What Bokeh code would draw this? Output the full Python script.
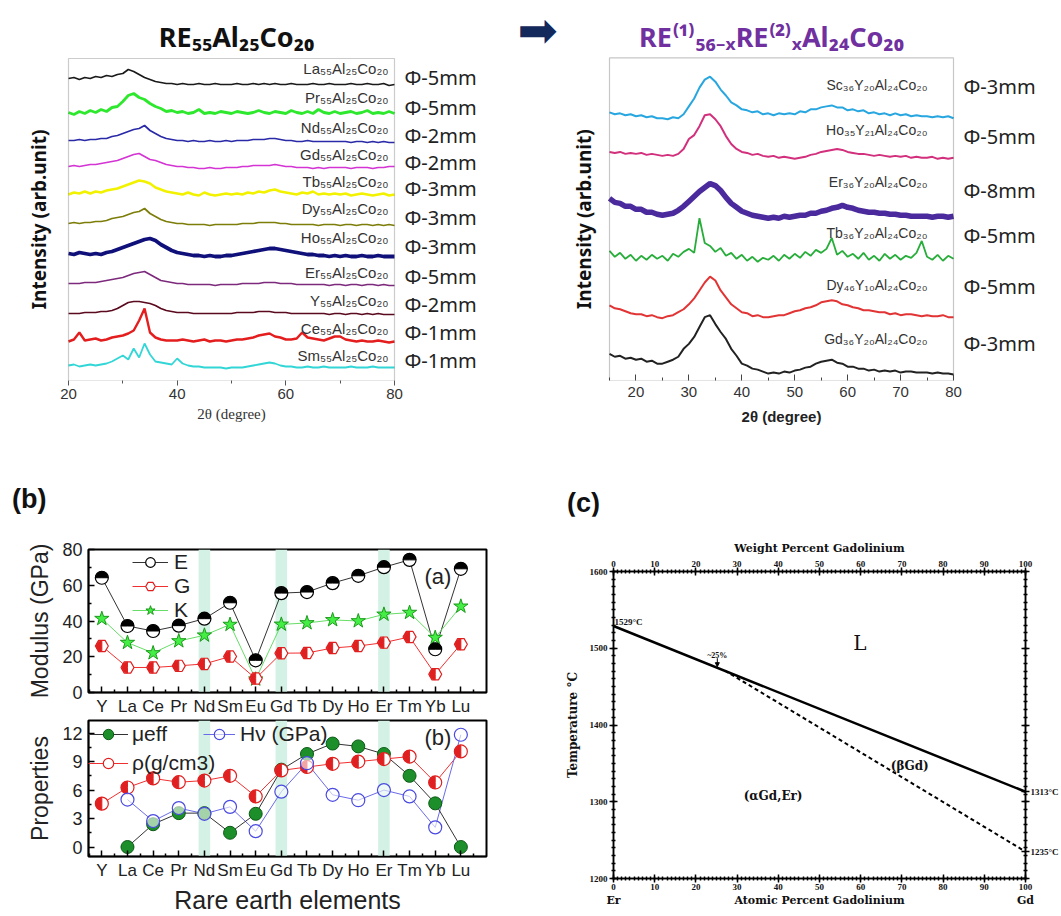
import math
from bokeh.plotting import figure
from bokeh.layouts import row, column
from bokeh.models import (Range1d, Label, LinearAxis, FixedTicker, Legend,
                          LegendItem, Arrow, NormalHead, BoxAnnotation, Div)
from bokeh.embed import file_html
from bokeh.resources import INLINE

nan = float("nan")

# ------------------------------------------------------------------ data
# Panel 1: RE55Al25Co20 XRD patterns (2theta 20..80, 1 degree steps)
theta_a = list(range(20, 81))
names_a = ["La₅₅Al₂₅Co₂₀", "Pr₅₅Al₂₅Co₂₀", "Nd₅₅Al₂₅Co₂₀", "Gd₅₅Al₂₅Co₂₀",
           "Tb₅₅Al₂₅Co₂₀", "Dy₅₅Al₂₅Co₂₀", "Ho₅₅Al₂₅Co₂₀", "Er₅₅Al₂₅Co₂₀",
           "Y₅₅Al₂₅Co₂₀", "Ce₅₅Al₂₅Co₂₀", "Sm₅₅Al₂₅Co₂₀"]
phi_a = ["Φ-5mm", "Φ-5mm", "Φ-2mm", "Φ-2mm", "Φ-3mm", "Φ-3mm", "Φ-3mm",
         "Φ-5mm", "Φ-2mm", "Φ-1mm", "Φ-1mm"]
offset_a = [295, 265, 238, 212, 183, 155, 123, 95, 66, 38, 12]
int_La = [7,8,6,8,7,9,8,10,9,11, 12,16,14,11,8,6,4,3,2,2, 1,2,1,1,2,1,1,2,1,1,
          1,2,1,1,2,1,2,1,2,1, 1,2,1,1,1,2,1,1,2,1, 1,1,2,1,1,2,1,1,2,0,1]
int_Pr = [3,1,4,2,5,3,6,4,8,9, 14,20,22,18,16,12,9,7,4,5, 3,4,2,3,6,2,3,2,4,3,
          2,4,3,2,3,5,3,2,4,3, 2,5,3,2,4,2,6,3,2,4, 2,3,4,2,3,5,2,3,2,4,2]
int_Nd = [2,2,3,2,3,3,4,4,6,7, 9,11,13,14,17,12,9,6,4,3, 2,2,1,2,1,1,2,1,1,2,
          1,2,2,2,3,3,3,4,4,3, 2,2,1,1,2,1,1,1,1,1, 1,1,0,1,1,0,1,0,1,0,0]
int_Gd = [2,3,2,3,4,4,5,6,7,8, 10,12,14,15,12,9,8,6,4,3, 2,2,1,1,0,0,1,0,0,1,
          1,1,2,2,3,3,3,3,4,3, 2,2,1,1,1,0,1,0,1,1, 1,1,0,1,1,1,0,1,1,2,2]
int_Tb = [3,5,4,6,4,6,5,7,8,9, 11,13,15,17,16,14,10,8,6,5, 4,3,5,3,2,5,3,2,3,4,
          3,4,3,5,4,6,5,7,8,6, 5,4,3,5,4,6,3,4,3,4, 3,4,2,3,4,3,2,3,4,2,3]
int_Dy = [2,3,2,3,3,4,4,5,7,8, 9,11,13,14,17,12,9,6,4,3, 2,2,1,1,1,1,0,1,1,1,
          1,1,2,2,2,3,3,3,3,2, 2,1,1,1,1,1,0,1,1,1, 0,1,1,0,1,1,0,1,0,1,0]
int_Ho = [4,3,5,4,3,4,3,5,6,8, 10,12,14,16,18,19,17,13,10,7, 5,4,3,2,2,1,2,1,1,2,
          2,3,4,5,6,7,8,9,9,8, 7,6,5,4,3,3,2,2,1,2, 1,2,1,1,2,1,1,2,1,1,1]
int_Er = [2,2,2,3,3,3,4,5,6,7, 8,10,12,13,14,11,8,5,4,3, 2,2,1,1,1,1,1,0,1,1,
          1,1,2,2,2,2,3,3,3,2, 2,2,1,1,1,1,1,1,0,1, 1,0,1,1,0,1,1,0,1,0,0]
int_Y = [1,1,1,2,2,2,3,3,4,6, 9,12,13,13,12,11,9,6,4,3, 2,2,2,1,1,1,1,1,1,1,
         1,2,2,2,2,3,3,3,2,2, 2,1,1,1,1,1,1,1,0,1, 1,0,1,1,0,1,0,1,0,0,0]
int_Ce = [1,3,10,2,3,4,2,3,5,6, 7,9,12,22,34,10,5,3,2,2, 2,3,2,1,2,3,1,2,2,1,
          2,3,3,4,5,7,8,9,6,5, 3,3,4,10,5,4,3,2,4,6, 6,3,2,1,2,1,1,2,1,0,1]
int_Sm = [3,4,2,3,4,3,4,5,7,10, 13,9,20,11,25,14,7,6,5,4, 10,5,3,2,2,1,1,1,1,0,
          1,1,1,2,3,4,5,6,5,3, 2,2,1,1,2,1,1,2,1,1, 1,1,2,1,1,1,2,1,1,1,1]
ints_a = [int_La, int_Pr, int_Nd, int_Gd, int_Tb, int_Dy, int_Ho, int_Er,
          int_Y, int_Ce, int_Sm]

# Panel 2: RE(1)56-xRE(2)xAl24Co20 XRD patterns (2theta 15..80)
theta_b = list(range(15, 81))
names_b = ["Sc₃₆Y₂₀Al₂₄Co₂₀", "Ho₃₅Y₂₁Al₂₄Co₂₀", "Er₃₆Y₂₀Al₂₄Co₂₀",
           "Tb₃₆Y₂₀Al₂₄Co₂₀", "Dy₄₆Y₁₀Al₂₄Co₂₀", "Gd₃₆Y₂₀Al₂₄Co₂₀"]
phi_b = ["Φ-3mm", "Φ-5mm", "Φ-8mm", "Φ-5mm", "Φ-5mm", "Φ-3mm"]
offset_b = [264, 224, 164, 121, 63, 6]
int_Sc36 = [7,5,6,4,5,3,4,2,3,1, 1,0,2,1,5,13,21,32,40,43, 38,30,24,17,14,10,9,7,8,5,
            6,4,6,5,6,5,8,7,10,10, 12,13,14,12,12,9,10,8,9,6, 7,5,6,4,6,4,5,3,4,3,
            3,2,3,2,3,1]
int_Ho35 = [7,6,7,5,6,5,6,4,5,4, 3,4,3,5,10,20,24,33,44,45, 40,33,23,15,10,7,6,4,5,3,
            2,3,1,2,1,0,1,2,4,5, 7,8,9,10,9,7,6,5,5,4, 3,4,3,2,3,2,3,1,2,1,
            1,2,0,1,0,1]
int_Er36 = [20,16,15,12,12,9,9,6,6,4, 3,4,5,8,12,17,22,27,31,35, 33,28,21,15,11,7,5,3,2,1,
            0,1,0,2,1,2,3,3,5,5, 7,8,10,11,13,11,10,8,7,6, 6,5,5,4,4,3,3,2,2,2,
            2,1,2,2,1,2]
int_Tb36 = [10,4,8,2,6,0,5,1,6,2, 5,0,7,4,9,12,8,43,18,15, 9,13,5,8,2,6,0,4,-1,3,
            1,5,0,6,2,7,3,9,5,11, 8,12,23,6,10,4,7,2,8,1, 5,0,7,2,6,1,5,3,8,20,
            4,1,6,0,5,2]
int_Dy46 = [13,10,9,7,5,4,4,2,3,1, 0,2,3,6,9,14,20,28,36,42, 38,28,21,14,10,6,5,2,3,1,
            1,2,3,3,5,7,8,10,11,13, 16,17,18,17,14,13,11,10,8,8, 7,6,6,4,5,3,4,4,3,2,
            3,2,2,3,1,1]
int_Gd36 = [21,18,19,16,17,15,16,13,14,11, 11,13,15,18,26,31,38,48,58,60, 51,43,36,26,19,11,9,6,5,3,
            1,2,1,3,2,4,5,7,8,11, 13,14,15,12,11,8,8,6,6,4, 5,3,4,3,4,2,3,3,2,2,
            2,1,2,1,1,0]
ints_b = [int_Sc36, int_Ho35, int_Er36, int_Tb36, int_Dy46, int_Gd36]

# Panel (b): properties of RE elements
elements = ["Y", "La", "Ce", "Pr", "Nd", "Sm", "Eu", "Gd", "Tb", "Dy", "Ho",
            "Er", "Tm", "Yb", "Lu"]
highlight = ["Nd", "Gd", "Er"]
mod_E = [64.2, 37.2, 34.4, 37.4, 41.3, 50.2, 18.0, 55.6, 56.2, 61.2, 65.3, 70.1, 74.2, 24.2, 69.2]
mod_G = [26.0, 14.0, 14.0, 14.9, 16.0, 20.1, 7.8, 22.0, 22.1, 24.9, 26.0, 27.9, 31.1, 10.2, 27.0]
mod_K = [41.3, 27.9, 22.1, 28.8, 32.0, 38.0, 7.4, 38.1, 38.9, 40.6, 40.0, 43.7, 44.7, 30.7, 48.2]
mu_eff = [nan, 0.0, 2.4, 3.57, 3.57, 1.5, 3.5, 8.15, 9.8, 10.9, 10.6, 9.8, 7.5, 4.6, 0.0]
rho = [4.57, 6.27, 7.23, 6.83, 7.0, 7.5, 5.33, 8.07, 8.43, 8.77, 9.0, 9.27, 9.53, 6.8, 10.07]
hv = [nan, 5.0, 2.73, 4.1, 3.5, 4.23, 1.67, 5.83, 8.83, 5.5, 4.93, 6.0, 5.33, 2.07, 11.83]

# Panel (c): Er-Gd phase diagram
at_pct_liq = [0, 100]
temp_liq = [1529, 1313]
at_pct_tr = [27, 100]
temp_tr = [1471, 1235]
end_temps = [1235, 1313]

for arr in ints_a:
    assert len(arr) == len(theta_a)
for arr in ints_b:
    assert len(arr) == len(theta_b)


# ------------------------------------------------------------------ helpers
def make_conv(box, xr, yr):
    l, t, r, b = box
    return (lambda X: xr[0] + (X - l) / (r - l) * (xr[1] - xr[0]),
            lambda Y: yr[1] - (Y - t) / (b - t) * (yr[1] - yr[0]))


def ext_ranges(box, xr, yr, frame):
    """Ranges for a frame larger than the visible axes box (same scale)."""
    l, t, r, b = box
    sx = (xr[1] - xr[0]) / (r - l)
    sy = (yr[1] - yr[0]) / (b - t)
    fl, ft, fr, fb = frame
    return ((xr[0] + (fl - l) * sx, xr[0] + (fr - l) * sx),
            (yr[0] - (fb - b) * sy, yr[0] + (b - ft) * sy))


def put(fig, conv, X, Y, text, size, font="Liberation Sans", color="#222222",
        style="normal", align="left", baseline="middle", angle=0.0):
    cx, cy = conv
    fig.add_layout(Label(x=cx(X), y=cy(Y), text=text, text_font=font,
                         text_font_size=f"{size}px", text_color=color,
                         text_font_style=style, text_align=align,
                         text_baseline=baseline, angle=angle))


def base_fig(w, h, borders, xr, yr):
    l, t, r, b = borders
    p = figure(width=w, height=h, x_range=Range1d(*xr), y_range=Range1d(*yr),
               output_backend="svg", toolbar_location=None, title=None,
               min_border_left=l, min_border_top=t, min_border_right=r,
               min_border_bottom=b)
    p.grid.visible = False
    p.background_fill_color = "white"
    p.border_fill_color = "white"
    return p


def style_axis(ax, font, size, color="#222222", tin=0, tout=5, mtin=0, mtout=3,
               lc="#555555", lw=1, standoff=3):
    ax.axis_line_color = lc
    ax.axis_line_width = lw
    ax.major_tick_line_color = lc
    ax.minor_tick_line_color = lc
    ax.major_tick_line_width = lw
    ax.minor_tick_line_width = lw
    ax.major_tick_in = tin
    ax.major_tick_out = tout
    ax.minor_tick_in = mtin
    ax.minor_tick_out = mtout
    ax.major_label_text_font = font
    ax.major_label_text_font_size = f"{size}px"
    ax.major_label_text_color = color
    ax.major_label_standoff = standoff


def axis_label(ax, text, font, size, style="normal", color="#222222", standoff=5):
    ax.axis_label = text
    ax.axis_label_text_font = font
    ax.axis_label_text_font_size = f"{size}px"
    ax.axis_label_text_font_style = style
    ax.axis_label_text_color = color
    ax.axis_label_standoff = standoff


def centered_axis_title(fig, at, text, font, size, style, color, standoff):
    """A label-only axis below the first one, carrying the x-axis title."""
    ax = LinearAxis()
    ax.ticker = FixedTicker(ticks=[at])
    ax.major_label_overrides = {at: text}
    style_axis(ax, font, size, color, tin=0, tout=0, mtin=0, mtout=0, lc=None,
               standoff=standoff)
    ax.major_label_text_font_style = style
    fig.add_layout(ax, "below")


def panel_tag(text, width, height, left, top):
    html = (f'<div style="font-family:\'Liberation Sans\',Arial,sans-serif;'
            f'font-size:27px;font-weight:bold;line-height:30px;color:#111111;'
            f'padding:{top}px 0 0 {left}px;margin:0">{text}</div>')
    return Div(text=html, width=width, height=height, margin=0)


# ------------------------------------------------------------------ panel 1
A_box = (68, 58, 394, 380)
A_xr, A_yr = (20, 80), (0, 322)
A_xf, A_yf = ext_ranges(A_box, A_xr, A_yr, (0, 0, 560, 380))
figA = base_fig(560, 460, (0, 0, 0, 80), A_xf, A_yf)
figA.outline_line_color = None
figA.add_layout(BoxAnnotation(left=A_xr[0], right=A_xr[1], bottom=A_yr[0],
                              top=A_yr[1], fill_color=None, line_color="#555555",
                              line_width=1.2))
cA = make_conv(A_box, A_xr, A_yr)
colors_a = ["#1a1a1a", "#2ee82e", "#2a2aa8", "#d334d3", "#f2f200", "#7d7d0a",
            "#10107a", "#7d2a7d", "#5a0a1e", "#e41e1e", "#32d6d6"]
widths_a = [1.7, 2.8, 1.7, 1.7, 2.4, 1.7, 3.8, 1.7, 1.7, 2.4, 1.8]
for vals, off, col, lw in zip(ints_a, offset_a, colors_a, widths_a):
    figA.line(theta_a, [off + v for v in vals], line_color=col, line_width=lw)

xa = figA.xaxis[0]
xa.ticker = FixedTicker(ticks=[20, 40, 60, 80], minor_ticks=[30, 50, 70])
style_axis(xa, "Liberation Sans", 15, "#333333", standoff=3)
xa.axis_line_color = None
centered_axis_title(figA, (A_xr[0] + A_xr[1]) / 2, "2θ (degree)",
                    "Liberation Serif", 15, "normal", "#333333", 4)
figA.yaxis.visible = False

put(figA, cA, 38, 219, "Intensity (arb.unit)", 19, font="Noto Sans",
    color="#111111", style="bold", align="center", angle=math.pi / 2)
put(figA, cA, 236, 36, "RE₅₅Al₂₅Co₂₀", 27, font="Noto Sans", color="#111111",
    style="bold", align="center", baseline="alphabetic")
put(figA, cA, 537, 29, "➡", 48, font="DejaVu Sans", color="#13295b",
    align="center")
label_y_a = [68, 97, 127, 154, 181, 208, 237, 272, 300, 328, 355]
phi_y_a = [77, 107, 135, 162, 188, 217, 246, 276, 304, 332, 360]
for nm, yy in zip(names_a, label_y_a):
    put(figA, cA, 388, yy, nm, 15, color="#333333", align="right")
for ph, yy in zip(phi_a, phi_y_a):
    put(figA, cA, 404, yy, ph, 20, font="Noto Sans", color="#222222")

# ------------------------------------------------------------------ panel 2
B_box = (609, 58, 953, 384)
B_xr, B_yr = (15, 80), (0, 326)
B_xf, B_yf = ext_ranges(B_box, B_xr, B_yr, (560, 0, 1061, 384))
figB = base_fig(501, 460, (0, 0, 0, 76), B_xf, B_yf)
figB.outline_line_color = None
figB.add_layout(BoxAnnotation(left=B_xr[0], right=B_xr[1], bottom=B_yr[0],
                              top=B_yr[1], fill_color=None, line_color="#444444",
                              line_width=1.2))
cB = make_conv(B_box, B_xr, B_yr)
colors_b = ["#27a6e0", "#d22f7c", "#4a2a9c", "#27ad3a", "#e23434", "#222222"]
widths_b = [2.0, 2.0, 5.5, 1.8, 2.0, 2.0]
for vals, off, col, lw in zip(ints_b, offset_b, colors_b, widths_b):
    figB.line(theta_b, [off + v for v in vals], line_color=col, line_width=lw)

xb = figB.xaxis[0]
xb.ticker = FixedTicker(ticks=[20, 30, 40, 50, 60, 70, 80],
                        minor_ticks=[15, 25, 35, 45, 55, 65, 75])
style_axis(xb, "Liberation Sans", 15, "#333333", tin=6, tout=0, mtin=3, mtout=0,
           lc="#444444", standoff=6)
xb.axis_line_color = None
centered_axis_title(figB, (B_xr[0] + B_xr[1]) / 2, "2θ (degree)",
                    "Liberation Sans", 15, "bold", "#222222", 8)
figB.yaxis.visible = False

put(figB, cB, 583, 221, "Intensity (arb.unit)", 19, font="Noto Sans",
    color="#111111", style="bold", align="center", angle=math.pi / 2)
put(figB, cB, 771, 36, "RE⁽¹⁾₅₆₋ₓRE⁽²⁾ₓAl₂₄Co₂₀", 27, font="Noto Sans",
    color="#7030a0", style="bold", align="center", baseline="alphabetic")
label_y_b = [85, 131, 183, 235, 287, 342]
phi_y_b = [87, 137, 192, 237, 289, 347]
for nm, yy in zip(names_b, label_y_b):
    put(figB, cB, 927, yy, nm, 14, color="#333333", align="right")
for ph, yy in zip(phi_b, phi_y_b):
    put(figB, cB, 963, yy, ph, 20, font="Noto Sans", color="#222222")

# ------------------------------------------------------------------ panel (b)
xpos = list(range(len(elements)))
hl_pos = [elements.index(e) for e in highlight]
overrides = {i: e for i, e in enumerate(elements)}
P_xr = (-0.52, 15.0)


def style_b_axes(p, yticks, yminor, ylabel):
    p.outline_line_color = "black"
    p.outline_line_width = 2
    xax = p.xaxis[0]
    xax.ticker = FixedTicker(ticks=xpos, minor_ticks=[i + 0.5 for i in range(-1, 15)])
    xax.major_label_overrides = overrides
    style_axis(xax, "Liberation Sans", 17, "#222222", tin=6, tout=0, mtin=3,
               mtout=0, lc="black", lw=1.5, standoff=4)
    yax = p.yaxis[0]
    yax.ticker = FixedTicker(ticks=yticks, minor_ticks=yminor)
    style_axis(yax, "Liberation Sans", 18, "#222222", tin=6, tout=0, mtin=3,
               mtout=0, lc="black", lw=1.5, standoff=6)
    axis_label(yax, ylabel, "Liberation Sans", 23, standoff=6)
    p.vbar(x=hl_pos, width=0.45, top=1000, bottom=-1000, fill_color="#d3f1e4",
           line_color=None)


TAG_H = 56
tagB = panel_tag("(b)", 520, TAG_H, 12, 24)
M_box = (88, 549, 486, 692)
M_yr = (0, 80)
figM = base_fig(520, 258 - TAG_H, (88, 89 - TAG_H, 34, 26), P_xr, M_yr)
cM = make_conv(M_box, P_xr, M_yr)
style_b_axes(figM, [0, 20, 40, 60, 80], [10, 30, 50, 70], "Modulus (GPa)")

lE = figM.line(xpos, mod_E, line_color="#333333", line_width=1)
lG = figM.line(xpos, mod_G, line_color="#f03030", line_width=1)
lK = figM.line(xpos, mod_K, line_color="#66dd66", line_width=1)
sK = figM.scatter(xpos, mod_K, marker="star", size=15, fill_color="#44ee44",
                  line_color="#1a9a1a", line_width=1)
sG = figM.scatter(xpos, mod_G, marker="hex", size=13, fill_color="white",
                  line_color="#e02020", line_width=1.2)
figM.wedge(xpos, mod_G, radius=5.5, radius_units="screen",
           start_angle=math.pi / 2, end_angle=3 * math.pi / 2, color="#e02020")
sE = figM.scatter(xpos, mod_E, marker="circle", size=13, fill_color="white",
                  line_color="black", line_width=1.2)
figM.wedge(xpos, mod_E, radius=6.2, radius_units="screen", start_angle=0,
           end_angle=math.pi, color="black")
legM = Legend(items=[LegendItem(label="E", renderers=[lE, sE]),
                     LegendItem(label="G", renderers=[lG, sG]),
                     LegendItem(label="K", renderers=[lK, sK])],
              location=(44, 70), border_line_color=None, background_fill_alpha=0,
              padding=0, margin=0, spacing=0, glyph_width=36, glyph_height=24,
              label_height=24, label_standoff=6, label_text_font="Liberation Sans",
              label_text_font_size="21px", label_text_color="#222222")
figM.add_layout(legM)
put(figM, cM, 424, 576, "(a)", 22, color="#222222")

N_box = (88, 720, 486, 863)
N_yr = (-1.0, 13.33)
figN = base_fig(520, 198, (88, 2, 34, 53), P_xr, N_yr)
cN = make_conv(N_box, P_xr, N_yr)
style_b_axes(figN, [0, 3, 6, 9, 12], [1.5, 4.5, 7.5, 10.5], "Properties")
axis_label(figN.xaxis[0], "Rare earth elements", "Liberation Sans", 25, standoff=3)

lR = figN.line(xpos, rho, line_color="#f03030", line_width=1)
lH = figN.line(xpos, hv, line_color="#6a6ae8", line_width=1)
lU = figN.line(xpos, mu_eff, line_color="#333333", line_width=1)
sU = figN.scatter(xpos, mu_eff, marker="circle", size=13, fill_color="#1c8f2a",
                  line_color="#0c5a16", line_width=1)
sR = figN.scatter(xpos, rho, marker="circle", size=13, fill_color="white",
                  line_color="#e02020", line_width=1.2)
figN.wedge(xpos, rho, radius=6.2, radius_units="screen",
           start_angle=math.pi / 2, end_angle=3 * math.pi / 2, color="#e02020")
sH = figN.scatter(xpos, hv, marker="circle", size=13, fill_color="white",
                  fill_alpha=0.6, line_color="#4a4ae0", line_width=1.2)
legN1 = Legend(items=[LegendItem(label="μeff", renderers=[lU, sU]),
                      LegendItem(label="ρ(g/cm3)", renderers=[lR, sR])],
               location=(0, 80), border_line_color=None, background_fill_alpha=0,
               padding=0, margin=0, spacing=3, glyph_width=40, glyph_height=26,
               label_height=26, label_standoff=4, label_text_font="Liberation Sans",
               label_text_font_size="21px", label_text_color="#222222")
legN2 = Legend(items=[LegendItem(label="Hν (GPa)", renderers=[lH, sH])],
               location=(115, 109), border_line_color=None, background_fill_alpha=0,
               padding=0, margin=0, spacing=0, glyph_width=32, glyph_height=26,
               label_height=26, label_standoff=5, label_text_font="Liberation Sans",
               label_text_font_size="21px", label_text_color="#222222")
figN.add_layout(legN1)
figN.add_layout(legN2)
put(figN, cN, 424, 738, "(b)", 22, color="#222222")

# ------------------------------------------------------------------ panel (c)
tagC = panel_tag("(c)", 541, TAG_H, 47, 28)
C_box = (613, 571, 1026, 878)
C_xr, C_yr = (0, 100), (1200, 1600)
figC = base_fig(541, 456 - TAG_H, (93, 111 - TAG_H, 35, 38), C_xr, C_yr)
cC = make_conv(C_box, C_xr, C_yr)
figC.outline_line_color = "black"
figC.outline_line_width = 1.5
serif = "DejaVu Serif"
tserif = "Liberation Serif"
x_major = list(range(0, 101, 10))
x_minor = list(range(0, 101))
y_major = list(range(1200, 1601, 100))
y_minor = list(range(1200, 1601, 10))

xc = figC.xaxis[0]
xc.ticker = FixedTicker(ticks=x_major, minor_ticks=x_minor)
style_axis(xc, tserif, 9, "#111111", tin=4, tout=4, mtin=2, mtout=2, lc="black",
           lw=1.5, standoff=1)
xc.major_label_text_font_style = "bold"

xc2 = LinearAxis()
xc2.ticker = FixedTicker(ticks=[0, 50, 100])
xc2.major_label_overrides = {0: "Er", 50: "Atomic Percent Gadolinium", 100: "Gd"}
style_axis(xc2, serif, 11, "#111111", tin=0, tout=0, mtin=0, mtout=0, lc=None,
           standoff=1)
xc2.major_label_text_font_style = "bold"
figC.add_layout(xc2, "below")

top = LinearAxis()
top.ticker = FixedTicker(ticks=x_major, minor_ticks=x_minor)
style_axis(top, tserif, 9, "#111111", tin=4, tout=4, mtin=2, mtout=2, lc="black",
           lw=1.5, standoff=1)
top.major_label_text_font_style = "bold"
axis_label(top, "Weight Percent Gadolinium", serif, 11, style="bold",
           color="#111111", standoff=3)
figC.add_layout(top, "above")

yc = figC.yaxis[0]
yc.ticker = FixedTicker(ticks=y_major, minor_ticks=y_minor)
style_axis(yc, tserif, 9, "#111111", tin=4, tout=4, mtin=2, mtout=2, lc="black",
           lw=1.5, standoff=2)
yc.major_label_text_font_style = "bold"
axis_label(yc, "Temperature °C", serif, 12, style="bold", color="#111111",
           standoff=7)

right = LinearAxis()
right.ticker = FixedTicker(ticks=y_major + end_temps, minor_ticks=y_minor)
style_axis(right, tserif, 9, "#111111", tin=4, tout=4, mtin=2, mtout=2,
           lc="black", lw=1.5, standoff=1)
right.major_label_text_font_style = "bold"
right_over = {t: "" for t in y_major}
right_over.update({t: f"{t}°C" for t in end_temps})
right.major_label_overrides = right_over
figC.add_layout(right, "right")

figC.line(at_pct_liq, temp_liq, line_color="black", line_width=2.5)
figC.line(at_pct_tr, temp_tr, line_color="black", line_width=2, line_dash="4 3")
figC.add_layout(Arrow(x_start=25.2, y_start=1487, x_end=25.2, y_end=1476,
                      line_width=1, line_color="black",
                      end=NormalHead(size=4, fill_color="black", line_color="black")))

put(figC, cC, 614, 626, "1529°C", 9, font=tserif, style="bold", color="#111111",
    baseline="bottom")
put(figC, cC, 717, 655, "~25%", 8, font=tserif, style="bold", color="#111111",
    align="center")
put(figC, cC, 860, 642, "L", 20, font=serif, color="#111111", align="center")
put(figC, cC, 910, 765, "(βGd)", 12, font=serif, style="bold", color="#111111",
    align="center")
put(figC, cC, 773, 795, "(αGd,Er)", 12, font=serif, style="bold", color="#111111",
    align="center")

# ------------------------------------------------------------------ layout
page = column(row(figA, figB),
              row(column(tagB, figM, figN), column(tagC, figC)))
open("out.html", "w").write(file_html(page, INLINE))
